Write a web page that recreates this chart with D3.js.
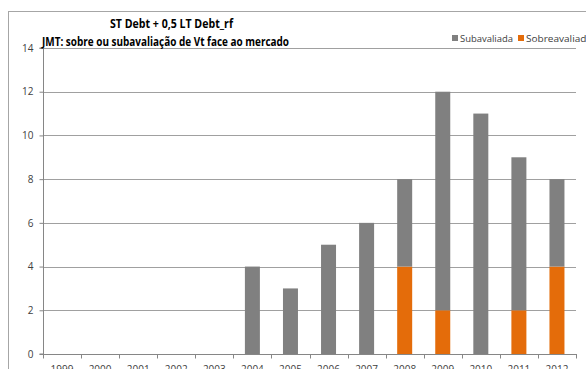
<!DOCTYPE html>
<html>
<head>
<meta charset="utf-8">
<script src="https://cdn.jsdelivr.net/npm/d3@7"></script>
<style>
  html, body { margin: 0; padding: 0; background: #fff; }
  svg { display: block; }
  text { font-family: "Open Sans", "DejaVu Sans", sans-serif; }
</style>
</head>
<body>
<svg id="chart" width="586" height="369"></svg>
<script>
// Years on the x axis
const years = ["1999","2000","2001","2002","2003","2004","2005","2006","2007","2008","2009","2010","2011","2012"];
// Count of firms overvalued (drawn at the bottom of each stack)
const sobreavaliada = [0,0,0,0,0,0,0,0,0,4,2,0,2,4];
// Count of firms undervalued (stacked on top)
const subavaliada   = [0,0,0,0,0,4,3,5,6,4,10,11,7,4];
const yTicks = [0,2,4,6,8,10,12,14];
const seriesNames = ["Subavaliada","Sobreavaliada"];
const colors = { Subavaliada: "#808080", Sobreavaliada: "#E46C0A" };

const svg = d3.select("#chart");
const margin = { left: 43, right: 10, top: 48, bottom: 15 };
const W = 586, H = 369;
const plotBottom = 354;

// outer chart frame
svg.append("rect")
  .attr("x", 8.5).attr("y", 11.5)
  .attr("width", 600).attr("height", 400)
  .attr("fill", "none").attr("stroke", "#a6a6a6").attr("stroke-width", 1);

const x = d3.scaleBand().domain(years).range([43, 576]).paddingInner(0).paddingOuter(0);
const y = d3.scaleLinear().domain([0, 14]).range([plotBottom, margin.top]);

// horizontal gridlines
svg.append("g")
  .selectAll("line")
  .data(yTicks.filter(d => d > 0))
  .join("line")
  .attr("x1", 43).attr("x2", 576)
  .attr("y1", d => Math.round(y(d)) + 0.5).attr("y2", d => Math.round(y(d)) + 0.5)
  .attr("stroke", "#a0a0a0").attr("stroke-width", 1);

// stacked bars
const rows = years.map((yr, i) => ({ year: yr, Sobreavaliada: sobreavaliada[i], Subavaliada: subavaliada[i] }));
const stack = d3.stack().keys(["Sobreavaliada", "Subavaliada"]);
const layers = stack(rows);
const barW = 15;
svg.append("g")
  .selectAll("g")
  .data(layers)
  .join("g")
  .attr("fill", d => colors[d.key])
  .selectAll("rect")
  .data(d => d.filter(p => p[1] > p[0]))
  .join("rect")
  .attr("x", p => x(p.data.year) + x.bandwidth() / 2 - barW / 2)
  .attr("width", barW)
  .attr("y", p => y(p[1]))
  .attr("height", p => y(p[0]) - y(p[1]));

// y axis
const yAxis = d3.axisLeft(y).tickValues(yTicks).tickSize(4).tickPadding(6);
const gy = svg.append("g").attr("transform", "translate(43.5,0)").call(yAxis);
gy.select(".domain").attr("stroke", "#868686").attr("d", `M-4,${y(14)}H0V${plotBottom}H-4`);
gy.selectAll(".tick line").attr("stroke", "#868686");
gy.selectAll(".tick text").attr("font-size", 10).attr("fill", "#404040")
  .attr("font-family", "Open Sans, DejaVu Sans, sans-serif");

// x axis with ticks at category boundaries
const gx = svg.append("g").attr("transform", `translate(0,${plotBottom + 0.5})`);
gx.append("line").attr("x1", 40).attr("x2", 577).attr("stroke", "#868686");
gx.selectAll("line.tk")
  .data(years.concat(["end"]))
  .join("line").attr("class", "tk")
  .attr("x1", (d, i) => Math.round(43 + i * x.bandwidth()) + 0.5)
  .attr("x2", (d, i) => Math.round(43 + i * x.bandwidth()) + 0.5)
  .attr("y1", 0).attr("y2", 4)
  .attr("stroke", "#868686");
gx.selectAll("text")
  .data(years)
  .join("text")
  .attr("x", d => x(d) + x.bandwidth() / 2)
  .attr("y", 18)
  .attr("text-anchor", "middle")
  .attr("font-size", 10).attr("fill", "#404040")
  .text(d => d);

// titles
svg.append("text")
  .attr("x", 110).attr("y", 28)
  .attr("font-size", 12).attr("font-weight", "bold").attr("fill", "#000")
  .attr("textLength", 123).attr("lengthAdjust", "spacingAndGlyphs")
  .text("ST Debt + 0,5 LT Debt_rf");
svg.append("text")
  .attr("x", 42).attr("y", 46)
  .attr("font-size", 12).attr("font-weight", "bold").attr("fill", "#000")
  .attr("textLength", 247).attr("lengthAdjust", "spacingAndGlyphs")
  .text("JMT: sobre ou subavaliação de Vt face ao mercado");

// legend
const legend = svg.append("g");
const legendItems = [
  { name: "Subavaliada", x: 452, w: 53 },
  { name: "Sobreavaliada", x: 518, w: 66 }
];
legendItems.forEach(it => {
  legend.append("rect").attr("x", it.x).attr("y", 35).attr("width", 6).attr("height", 6)
    .attr("fill", colors[it.name]);
  legend.append("text").attr("x", it.x + 8).attr("y", 41.5)
    .attr("font-size", 9).attr("fill", "#404040")
    .attr("textLength", it.w).attr("lengthAdjust", "spacingAndGlyphs")
    .text(it.name);
});
</script>
</body>
</html>
